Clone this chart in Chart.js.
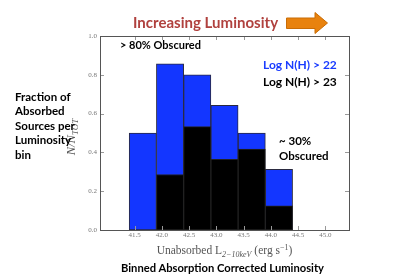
<!DOCTYPE html>
<html>
<head>
<meta charset="utf-8">
<script src="https://cdn.jsdelivr.net/npm/chart.js@4.4.1/dist/chart.umd.min.js"></script>
<style>
  html, body { margin: 0; padding: 0; background: #fff; }
  #wrap { position: relative; width: 416px; height: 279px; overflow: hidden;
          font-family: Lato, 'Open Sans', sans-serif; font-weight: bold; }
  #c { position: absolute; left: 0; top: 0; }
  .t { position: absolute; white-space: nowrap; line-height: 1; }
</style>
</head>
<body>
<div id="wrap">
  <canvas id="c" width="416" height="279"></canvas>
  <div class="t" style="left:133px;top:15px;font-size:15.5px;color:#b0413e;transform:scaleX(0.97);transform-origin:0 0">Increasing Luminosity</div>
  <svg class="t" style="left:286px;top:12px" width="43" height="23">
    <polygon points="0.5,6 29,6 29,0.5 41.5,11 29,21.5 29,16.5 0.5,16.5" fill="#e8820e" stroke="#c96c05" stroke-width="1"/>
  </svg>
  <div class="t" style="left:120px;top:39px;font-size:11px;color:#000">&gt; 80% Obscured</div>
  <div class="t" style="left:263px;top:59px;font-size:12px;color:#1a3cff">Log N(H) &gt; 22</div>
  <div class="t" style="left:263px;top:76px;font-size:12px;color:#000">Log N(H) &gt; 23</div>
  <div class="t" style="left:279px;top:134px;font-size:11.5px;color:#000;line-height:14.5px">~ 30%<br>Obscured</div>
  <div class="t" style="left:15px;top:90px;font-size:11.5px;color:#000;line-height:14.4px">Fraction of<br>Absorbed<br>Sources per<br>Luminosity<br>bin</div>
  <div class="t" style="left:121px;top:262px;font-size:11.2px;color:#000">Binned Absorption Corrected Luminosity</div>
</div>
<script>
// histogram bins (log L, 0.5 dex wide)
const binCenters = [41.65, 42.15, 42.65, 43.15, 43.65, 44.15];
// fraction of sources with log N(H) > 22 and > 23
const fracNH22 = [0.5, 0.857, 0.8, 0.643, 0.5, 0.313];
const fracNH23 = [0, 0.286, 0.533, 0.364, 0.417, 0.125];
// axis ticks
const xTicks = [41.5, 42.0, 42.5, 43.0, 43.5, 44.0, 44.5, 45.0];
const yTicks = [0.0, 0.2, 0.4, 0.6, 0.8, 1.0];

const tickFont = { family: "'Liberation Serif', serif", size: 7 };

// frame, inward ticks and the math-ish axis titles
const framePlugin = {
  id: 'frame',
  afterDraw(chart) {
    const ctx = chart.ctx;
    const a = chart.chartArea;
    const xs = chart.scales.x, ys = chart.scales.y;
    ctx.save();
    ctx.strokeStyle = '#999';
    ctx.lineWidth = 1;
    ctx.beginPath();
    xTicks.forEach(v => {
      const px = Math.round(xs.getPixelForValue(v)) + 0.5;
      ctx.moveTo(px, a.bottom); ctx.lineTo(px, a.bottom - 4);
      ctx.moveTo(px, a.top); ctx.lineTo(px, a.top + 4);
    });
    yTicks.forEach(v => {
      const py = Math.round(ys.getPixelForValue(v)) + 0.5;
      ctx.moveTo(a.left, py); ctx.lineTo(a.left + 4, py);
      ctx.moveTo(a.right, py); ctx.lineTo(a.right - 4, py);
    });
    ctx.stroke();
    ctx.strokeStyle = '#555';
    ctx.strokeRect(Math.round(a.left) + 0.5, Math.round(a.top) + 0.5,
                   Math.round(a.right - a.left), Math.round(a.bottom - a.top));

    // x title: Unabsorbed L_{2-10keV} (erg s^-1)
    ctx.fillStyle = '#555';
    ctx.textBaseline = 'alphabetic';
    const big = "11.5px 'Liberation Serif', serif";
    const sm = "8px 'Liberation Serif', serif";
    const sub = "italic 8px 'Liberation Serif', serif";
    const parts = [
      [big, 'Unabsorbed L', 0], [sub, '2\u221210keV', 2.5],
      [big, ' (erg s', 0], [sm, '\u22121', -4.5], [big, ')', 0]
    ];
    let w = 0;
    parts.forEach(p => { ctx.font = p[0]; w += ctx.measureText(p[1]).width; });
    let x = (a.left + a.right) / 2 - w / 2;
    parts.forEach(p => {
      ctx.font = p[0];
      ctx.fillText(p[1], x, 254 + p[2]);
      x += ctx.measureText(p[1]).width;
    });

    // y title: N/N_TOT
    ctx.translate(75, 137);
    ctx.rotate(-Math.PI / 2);
    const yparts = [["italic 12.5px 'Liberation Serif', serif", 'N/N', 0],
                    ["italic 9px 'Liberation Serif', serif", 'TOT', 2.5]];
    w = 0;
    yparts.forEach(p => { ctx.font = p[0]; w += ctx.measureText(p[1]).width; });
    x = -w / 2;
    yparts.forEach(p => {
      ctx.font = p[0];
      ctx.fillText(p[1], x, p[2]);
      x += ctx.measureText(p[1]).width;
    });
    ctx.restore();
  }
};

new Chart(document.getElementById('c').getContext('2d'), {
  type: 'bar',
  data: {
    datasets: [
      {
        label: 'Log N(H) > 23',
        data: binCenters.map((c, i) => ({ x: c, y: fracNH23[i] })),
        backgroundColor: '#000000',
        borderColor: '#222',
        borderWidth: 1,
        borderSkipped: false,
        grouped: false,
        barPercentage: 1,
        categoryPercentage: 1,
        order: 0
      },
      {
        label: 'Log N(H) > 22',
        data: binCenters.map((c, i) => ({ x: c, y: fracNH22[i] })),
        backgroundColor: '#1336ff',
        borderColor: '#2a2a40',
        borderWidth: 1,
        borderSkipped: false,
        grouped: false,
        barPercentage: 1,
        categoryPercentage: 1,
        order: 1
      }
    ]
  },
  options: {
    responsive: false,
    animation: false,
    layout: { padding: { left: 0, right: 67, top: 36, bottom: 0 } },
    plugins: { legend: { display: false }, tooltip: { enabled: false } },
    scales: {
      x: {
        type: 'linear',
        min: 41.15,
        max: 45.15,
        afterBuildTicks: axis => { axis.ticks = xTicks.map(v => ({ value: v })); },
        afterFit: scale => { scale.height = 49; },
        grid: { display: false, drawTicks: false },
        border: { display: false },
        ticks: { color: '#777', font: tickFont, padding: 1, maxRotation: 0,
                 autoSkip: false, callback: v => v.toFixed(1) }
      },
      y: {
        min: 0,
        max: 1,
        afterBuildTicks: axis => { axis.ticks = yTicks.map(v => ({ value: v })); },
        afterFit: scale => { scale.width = 100; },
        grid: { display: false, drawTicks: false },
        border: { display: false },
        ticks: { color: '#777', font: tickFont, padding: 3, callback: v => v.toFixed(1) }
      }
    }
  },
  plugins: [framePlugin]
});
</script>
</body>
</html>
